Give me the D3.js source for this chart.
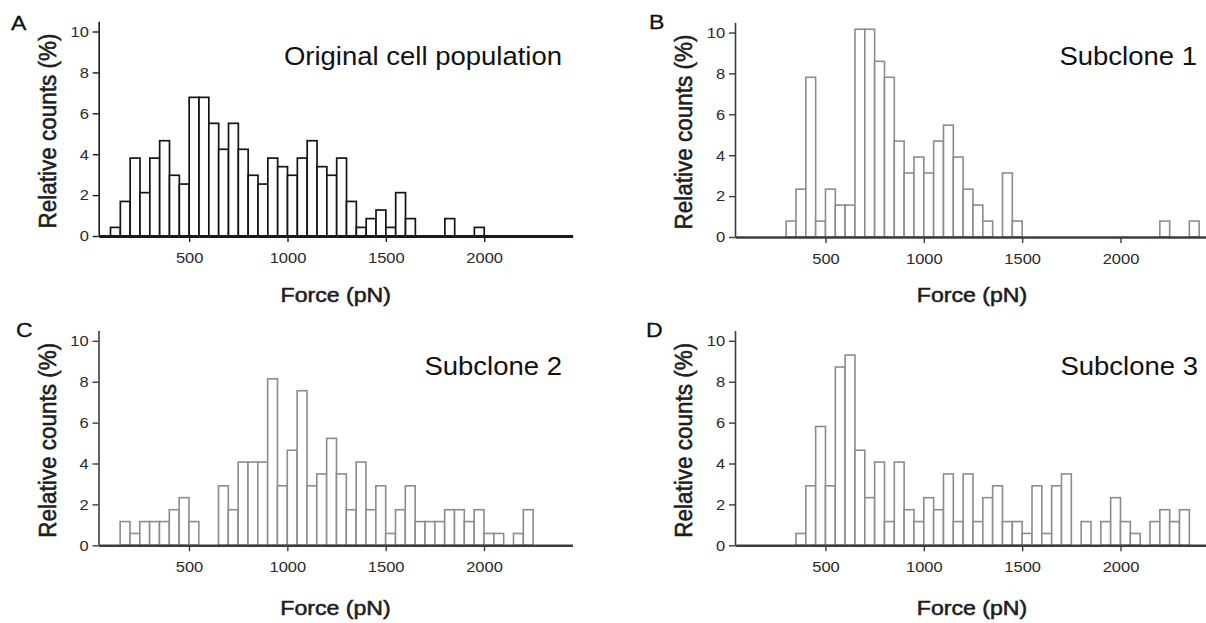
<!DOCTYPE html>
<html>
<head>
<meta charset="utf-8">
<script src="https://cdn.jsdelivr.net/npm/d3@7"></script>
<style>
  html, body { margin: 0; padding: 0; background: #fff; }
  svg { display: block; }
</style>
</head>
<body>
<script>
// Bin start values (pN); every bin is 50 pN wide
const binStart = [100,150,200,250,300,350,400,450,500,550,600,650,700,750,800,850,900,950,
  1000,1050,1100,1150,1200,1250,1300,1350,1400,1450,1500,1550,1600,1650,1700,1750,1800,1850,
  1900,1950,2000,2050,2100,2150,2200,2250,2300,2350];
const binWidth = 50;

// Relative counts (%) per bin
const originalPopulation = [0.42,1.69,3.81,2.12,3.81,4.66,2.97,2.54,6.78,6.78,5.51,4.24,5.51,4.24,2.97,2.54,3.81,3.39,
  2.97,3.81,4.66,3.39,2.97,3.81,1.69,0.42,0.85,1.27,0.42,2.12,0.85,0,0,0,0.85,0,
  0,0.42,0,0,0,0,0,0,0,0];
const subclone1 = [0,0,0,0,0.78,2.34,7.81,0.78,2.34,1.56,1.56,10.16,10.16,8.59,7.81,4.69,3.13,3.91,
  3.13,4.69,5.47,3.91,2.34,1.56,0.78,0,3.13,0.78,0,0,0,0,0,0,0,0,
  0,0,0,0,0,0,0.78,0,0,0.78];
const subclone2 = [0,1.16,0.58,1.16,1.16,1.16,1.74,2.33,1.16,0,0,2.91,1.74,4.07,4.07,4.07,8.14,2.91,
  4.65,7.56,2.91,3.49,5.23,3.49,1.74,4.07,1.74,2.91,0.58,1.74,2.91,1.16,1.16,1.16,1.74,1.74,
  1.16,1.74,0.58,0.58,0,0.58,1.74,0,0,0];
const subclone3 = [0,0,0,0,0,0.58,2.91,5.81,2.91,8.72,9.30,4.65,2.33,4.07,1.16,4.07,1.74,1.16,
  2.33,1.74,3.49,1.16,3.49,1.16,2.33,2.91,1.16,1.16,0.58,2.91,0.58,2.91,3.49,0,1.16,0,
  1.16,2.33,1.16,0.58,0,1.16,1.74,1.16,1.74,0];

const xTicks = [500, 1000, 1500, 2000];
const yTicks = [0, 2, 4, 6, 8, 10];
const panelLetters = ["A", "B", "C", "D"];
const panelTitles = ["Original cell population", "Subclone 1", "Subclone 2", "Subclone 3"];
const xTitle = "Force (pN)";
const yTitle = "Relative counts (%)";

const W = 1206, H = 623;
const FONT = "'Liberation Sans', Arial, Helvetica, sans-serif";
const STRETCH = "scale(1.1,1)";

// Panel geometry: origin of axes, title and letter placement
const panels = [
  { values: originalPopulation, x0: 98.7, y0: 236, titleX: 562, titleY: 65, letterX: 11, letterY: 29.5, xTitleY: 302, dark: true },
  { values: subclone1, x0: 735, y0: 237, titleX: 1197, titleY: 65, letterX: 649, letterY: 29, xTitleY: 302, dark: false },
  { values: subclone2, x0: 98.5, y0: 545.3, titleX: 562, titleY: 375, letterX: 16, letterY: 337, xTitleY: 615, dark: false },
  { values: subclone3, x0: 735, y0: 545.3, titleX: 1198, titleY: 375, letterX: 646, letterY: 337, xTitleY: 615, dark: false }
];
const plotW = 474, plotH = 214.7;

const svg = d3.select("body").append("svg")
  .attr("width", W).attr("height", H)
  .style("background", "#fff");

panels.forEach((p, i) => {
  const x = d3.scaleLinear().domain([40, 2450]).range([p.x0, p.x0 + plotW]);
  const y = d3.scaleLinear().domain([0, 10.5]).range([p.y0, p.y0 - plotH]);
  const g = svg.append("g");

  const barColor = p.dark ? "#141414" : "#8c8c8c";
  const axisColor = p.dark ? "#1a1a1a" : "#3c3c3c";

  // histogram bars
  const bins = binStart.map((b, k) => ({ b, v: p.values[k] })).filter(d => d.v > 0);
  g.append("g").selectAll("rect").data(bins).join("rect")
    .attr("x", d => x(d.b))
    .attr("y", d => y(d.v))
    .attr("width", d => x(d.b + binWidth) - x(d.b))
    .attr("height", d => p.y0 - y(d.v))
    .attr("fill", "#fff")
    .attr("stroke", barColor)
    .attr("stroke-width", p.dark ? 1.7 : 1.6);

  // x axis
  const gx = g.append("g").attr("transform", `translate(0,${p.y0})`)
    .call(d3.axisBottom(x).tickValues(xTicks).tickFormat(d3.format("d"))
      .tickSize(6).tickPadding(10).tickSizeOuter(0));
  gx.select(".domain").attr("stroke", axisColor).attr("stroke-width", p.dark ? 3 : 2.6);
  gx.selectAll(".tick line").attr("stroke", axisColor).attr("stroke-width", 1.4);
  gx.selectAll(".tick text")
    .attr("transform", STRETCH)
    .attr("fill", "#2a2a2a")
    .style("font-family", FONT).style("font-size", "15px");

  // y axis
  const gy = g.append("g").attr("transform", `translate(${p.x0},0)`)
    .call(d3.axisLeft(y).tickValues(yTicks).tickFormat(d3.format("d"))
      .tickSize(6).tickPadding(3).tickSizeOuter(0));
  gy.select(".domain").attr("stroke", axisColor).attr("stroke-width", 1.6);
  gy.selectAll(".tick line").attr("stroke", axisColor).attr("stroke-width", 1.4);
  gy.selectAll(".tick text")
    .attr("transform", STRETCH)
    .attr("fill", "#2a2a2a")
    .style("font-family", FONT).style("font-size", "15px");

  // axis titles (regular face with a thin outline for a medium weight)
  g.append("text")
    .attr("transform", `translate(${p.x0 + plotW / 2},${p.xTitleY}) ${STRETCH}`)
    .attr("text-anchor", "middle")
    .style("font-family", FONT).style("font-size", "21px")
    .attr("fill", "#1e1e1e").attr("stroke", "#1e1e1e").attr("stroke-width", 0.55)
    .text(xTitle);

  g.append("text")
    .attr("transform", `translate(${p.x0 - 43},${p.y0 - 105}) rotate(-90) scale(1,1.1)`)
    .attr("text-anchor", "middle")
    .style("font-family", FONT).style("font-size", "22.5px")
    .attr("fill", "#1e1e1e").attr("stroke", "#1e1e1e").attr("stroke-width", 0.55)
    .text(yTitle);

  // panel title
  g.append("text")
    .attr("transform", `translate(${p.titleX},${p.titleY}) ${STRETCH}`)
    .attr("text-anchor", "end")
    .style("font-family", FONT).style("font-size", "25px")
    .attr("fill", "#111")
    .text(panelTitles[i]);

  // panel letter
  g.append("text")
    .attr("transform", `translate(${p.letterX},${p.letterY}) ${STRETCH}`)
    .style("font-family", FONT).style("font-size", "21px")
    .attr("fill", "#111").attr("stroke", "#111").attr("stroke-width", 0.3)
    .text(panelLetters[i]);
});
</script>
</body>
</html>
